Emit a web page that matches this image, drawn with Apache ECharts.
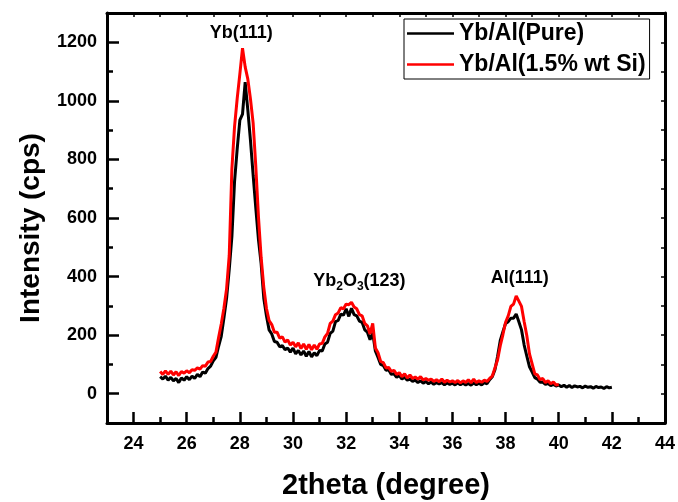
<!DOCTYPE html>
<html>
<head>
<meta charset="utf-8">
<script src="https://cdn.jsdelivr.net/npm/echarts@6/dist/echarts.min.js"></script>
<style>
  html, body { margin: 0; padding: 0; background: #fff; }
  #chart { width: 678px; height: 502px; }
</style>
</head>
<body>
<div id="chart"></div>
<script>
// XRD 图谱, 2theta 从 25.0 开始, 步长 0.1
const startAngle = 25.0
const stepAngle = 0.1

// Yb/Al(Pure) 25.0 ~ 42.0
const pureValues = [
  58, 50, 60, 46, 56, 44, 52, 38, 54, 46,
  58, 48, 60, 52, 66, 58, 74, 70, 86, 94,
  112, 124, 162, 196, 258, 326, 424, 536, 724, 836,
  934, 955, 1064, 968, 864, 746, 634, 526, 444, 326,
  266, 218, 204, 178, 176, 160, 164, 150, 156, 142,
  156, 136, 148, 132, 146, 128, 144, 126, 140, 130,
  148, 146, 170, 176, 206, 214, 246, 250, 272, 268,
  290, 264, 292, 270, 266, 248, 244, 218, 210, 184,
  208, 146, 124, 100, 96, 80, 82, 66, 68, 56,
  62, 50, 56, 46, 50, 42, 46, 38, 44, 36,
  42, 34, 40, 32, 38, 33, 38, 30, 37, 32,
  36, 30, 37, 31, 36, 30, 35, 29, 37, 31,
  36, 30, 38, 34, 48, 58, 82, 128, 182, 212,
  240, 246, 258, 258, 272, 246, 218, 166, 128, 92,
  74, 55, 50, 39, 40, 32, 35, 28, 32, 26,
  30, 24, 29, 22, 28, 21, 27, 23, 25, 20,
  26, 22, 24, 19, 25, 21, 23, 18, 24, 20,
  22
]

// Yb/Al(1.5% wt Si) 25.0 ~ 40.0
const siValues = [
  76, 66, 78, 66, 77, 64, 75, 62, 76, 70,
  78, 72, 82, 80, 88, 84, 96, 94, 108, 110,
  128, 142, 192, 238, 292, 358, 472, 768, 912, 1008,
  1092, 1180, 1116, 1074, 1006, 924, 776, 604, 466, 364,
  292, 250, 236, 210, 210, 190, 194, 176, 184, 166,
  176, 160, 174, 154, 170, 152, 168, 150, 166, 152,
  170, 172, 194, 206, 240, 248, 270, 276, 294, 290,
  306, 304, 312, 296, 290, 270, 266, 240, 232, 204,
  240, 156, 140, 110, 106, 88, 90, 76, 80, 66,
  72, 58, 68, 54, 64, 52, 57, 50, 58, 47,
  52, 46, 50, 42, 48, 41, 50, 39, 46, 40,
  44, 38, 45, 37, 44, 38, 48, 37, 50, 38,
  44, 39, 46, 42, 52, 60, 88, 116, 164, 202,
  244, 266, 298, 306, 334, 316, 298, 246, 198, 136,
  102, 68, 64, 48, 52, 38, 44, 34, 40, 30,
  32
]

const seriesNames = ['Yb/Al(Pure)', 'Yb/Al(1.5% wt Si)']
const xTickLabels = [24, 26, 28, 30, 32, 34, 36, 38, 40, 42, 44]
const yTickLabels = [0, 200, 400, 600, 800, 1000, 1200]

// 峰的标注 (数据坐标)
const peakLabels = [
  { text: 'Yb(111)', x: 28.05, y: 1233 },
  { text: '{a|Yb}{s|2}{a|O}{s|3}{a|(123)}', x: 32.5, y: 385 },
  { text: 'Al(111)', x: 38.53, y: 396 }
]

const font = 'Liberation Sans, Arial, sans-serif'
const toPairs = values => values.map((v, i) => [+(startAngle + i * stepAngle).toFixed(1), v])

const chart = echarts.init(document.getElementById('chart'))

const axisLine = { show: true, onZero: false, lineStyle: { color: '#000', width: 3 } }
const tickStyle = { color: '#000', width: 2.5 }

const option = {
  animation: false,
  backgroundColor: '#fff',
  grid: { left: 107, right: 13, top: 13, bottom: 79, outerBoundsMode: 'none', containLabel: false },
  legend: {
    data: seriesNames,
    orient: 'vertical',
    left: 404,
    top: 19,
    borderColor: '#000',
    borderWidth: 1,
    borderRadius: 0,
    padding: [2, 4, 2, 3],
    icon: 'rect',
    itemWidth: 47,
    itemHeight: 2.5,
    itemGap: 6,
    textStyle: { fontSize: 23, fontWeight: 'bold', color: '#000', fontFamily: font, lineHeight: 25 }
  },
  xAxis: [
    {
      type: 'value', min: 23, max: 44, interval: 1, position: 'bottom',
      axisLine: axisLine,
      axisTick: { inside: true, length: 6, lineStyle: tickStyle },
      axisLabel: {
        formatter: v => (xTickLabels.includes(v) ? String(v) : ''),
        margin: 12, fontSize: 18, fontWeight: 'bold', color: '#000', fontFamily: font
      },
      splitLine: { show: false },
      name: '2theta (degree)', nameLocation: 'middle', nameGap: 48,
      nameTextStyle: { fontSize: 29, fontWeight: 'bold', color: '#000', fontFamily: font }
    },
    {
      type: 'value', min: 23, max: 44, position: 'bottom',
      axisLine: { show: false, onZero: false },
      axisTick: { show: true, inside: true, length: 11, customValues: xTickLabels, lineStyle: tickStyle },
      axisLabel: { show: false },
      splitLine: { show: false }
    },
    {
      type: 'value', min: 23, max: 44, interval: 1, position: 'top',
      axisLine: axisLine,
      axisTick: { inside: true, length: 4, lineStyle: { color: '#000', width: 1.5 } },
      axisLabel: { show: false },
      splitLine: { show: false }
    }
  ],
  yAxis: [
    {
      type: 'value', min: -100, max: 1300, interval: 100, position: 'left',
      axisLine: axisLine,
      axisTick: { inside: true, length: 6, lineStyle: tickStyle },
      axisLabel: {
        formatter: v => (yTickLabels.includes(v) ? String(v) : ''),
        margin: 10, fontSize: 18, fontWeight: 'bold', color: '#000', fontFamily: font
      },
      splitLine: { show: false },
      name: 'Intensity (cps)', nameLocation: 'middle', nameGap: 62,
      nameTextStyle: { fontSize: 28, fontWeight: 'bold', color: '#000', fontFamily: font, padding: [0, 20, 0, 0] }
    },
    {
      type: 'value', min: -100, max: 1300, position: 'left',
      axisLine: { show: false, onZero: false },
      axisTick: { show: true, inside: true, length: 12, customValues: yTickLabels, lineStyle: tickStyle },
      axisLabel: { show: false },
      splitLine: { show: false }
    },
    {
      type: 'value', min: -100, max: 1300, interval: 100, position: 'right',
      axisLine: axisLine,
      axisTick: { inside: true, length: 4, lineStyle: { color: '#000', width: 1.5 } },
      axisLabel: { show: false },
      splitLine: { show: false }
    }
  ],
  series: [
    {
      name: seriesNames[0], type: 'line', xAxisIndex: 0, yAxisIndex: 0,
      data: toPairs(pureValues), symbol: 'none',
      lineStyle: { color: '#000', width: 3 }, itemStyle: { color: '#000' }
    },
    {
      name: seriesNames[1], type: 'line', xAxisIndex: 0, yAxisIndex: 0,
      data: toPairs(siValues), symbol: 'none',
      lineStyle: { color: '#ff0000', width: 3 }, itemStyle: { color: '#ff0000' }
    }
  ]
}
chart.setOption(option)

// 标注文字按数据坐标定位
const graphics = peakLabels.map(p => {
  const pos = chart.convertToPixel({ xAxisIndex: 0, yAxisIndex: 0 }, [p.x, p.y])
  return {
    type: 'text', x: pos[0], y: pos[1],
    style: {
      text: p.text, align: 'center', verticalAlign: 'middle',
      fontSize: 18, fontWeight: 'bold', fill: '#000', fontFamily: font,
      rich: {
        a: { fontSize: 18, fontWeight: 'bold', fontFamily: font, lineHeight: 24 },
        s: { fontSize: 12, fontWeight: 'bold', fontFamily: font, lineHeight: 12, padding: [12, 0, 0, 0] }
      }
    }
  }
})
chart.setOption({ graphic: graphics })
</script>
</body>
</html>
